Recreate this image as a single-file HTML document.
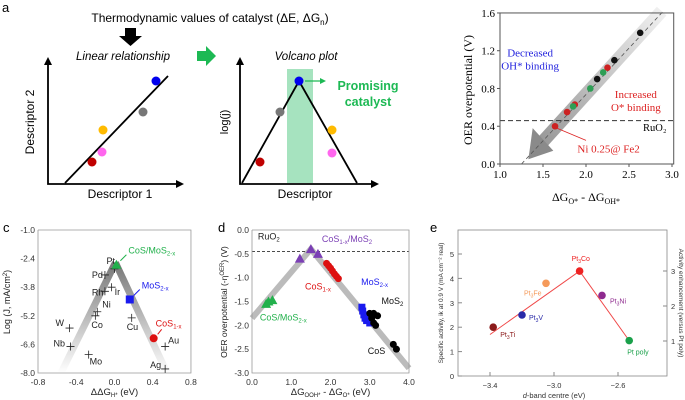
<!DOCTYPE html>
<html><head><meta charset="utf-8"><style>
body{margin:0;background:#fff}
svg{display:block;font-family:"Liberation Sans",sans-serif}
.serif{font-family:"Liberation Serif",serif}
</style></head><body>
<svg id="s" width="685" height="400" viewBox="0 0 685 400">
<defs>
<linearGradient id="gb" x1="0" y1="1" x2="1" y2="0"><stop offset="0" stop-color="#888"/><stop offset="1" stop-color="#eee"/></linearGradient>
<linearGradient id="gc1" x1="0" y1="1" x2="0" y2="0"><stop offset="0" stop-color="#fff"/><stop offset="1" stop-color="#777"/></linearGradient>
</defs>
<g>
<text x="2" y="12" font-size="13">a</text>
<text x="210" y="22" font-size="12" text-anchor="middle">Thermodynamic values of catalyst (ΔE, ΔG<tspan font-size="8" dy="3">n</tspan><tspan dy="-3">)</tspan></text>
<polygon points="125,28 136,28 136,36 142,36 130.5,46 119,36 125,36" fill="#000"/>
<text x="123" y="60" font-size="11.5" font-style="italic" text-anchor="middle">Linear relationship</text>
<text x="306" y="60" font-size="11.5" font-style="italic" text-anchor="middle">Volcano plot</text>
<polygon points="197,51 206,51 206,46 216,56 206,66 206,61 197,61" fill="#1db954"/>
<g stroke="#000" stroke-width="1.8" fill="none">
<path d="M48,60 V184 H180"/><path d="M240,60 V184 H375"/>
<line x1="65" y1="183" x2="168" y2="76"/>
</g>
<polygon points="48,57 44,65 52,65" fill="#000"/><polygon points="184,184 176,180 176,188" fill="#000"/>
<polygon points="240,57 236,65 244,65" fill="#000"/><polygon points="379,184 371,180 371,188" fill="#000"/>
<rect x="287" y="69" width="26" height="114" fill="#a6e3bf"/>
<polyline points="242,183 299,81 357,183" fill="none" stroke="#000" stroke-width="1.8"/>
<g>
<circle cx="156" cy="81" r="4.5" fill="#0000ee"/><circle cx="143" cy="112" r="4.5" fill="#777"/><circle cx="103" cy="130" r="4.5" fill="#ffbb00"/><circle cx="102" cy="152" r="4.5" fill="#ff66ee"/><circle cx="92" cy="162" r="4.5" fill="#c00000"/>
</g>
<g>
<circle cx="299" cy="81" r="4.5" fill="#0000ee"/><circle cx="280" cy="112" r="4.5" fill="#777"/><circle cx="260" cy="162" r="4.5" fill="#c00000"/><circle cx="332" cy="130" r="4.5" fill="#ffbb00"/><circle cx="332" cy="153" r="4.5" fill="#ff66ee"/>
</g>
<line x1="305" y1="81" x2="322" y2="81" stroke="#1db954" stroke-width="1.2"/><polygon points="326,81 320,78 320,84" fill="#1db954"/>
<text x="368" y="90" font-size="12.5" font-weight="bold" fill="#1db954" text-anchor="middle">Promising</text>
<text x="368" y="106" font-size="12.5" font-weight="bold" fill="#1db954" text-anchor="middle">catalyst</text>
<text x="120" y="198" font-size="12" text-anchor="middle">Descriptor 1</text>
<text x="305" y="198" font-size="12" text-anchor="middle">Descriptor</text>
<text transform="translate(34,122) rotate(-90)" font-size="12" text-anchor="middle">Descriptor 2</text>
<text transform="translate(228,122) rotate(-90)" font-size="11" text-anchor="middle">log(j)</text>
</g>
<text x="3" y="232" font-size="13">c</text>
<text x="218" y="232" font-size="13">d</text>
<text x="430" y="232" font-size="13">e</text>
<g id="gb-root"></g><g id="gc-root"></g><g id="gd-root"></g><g id="ge-root"></g>
</svg>
<script>
const NS="http://www.w3.org/2000/svg";
function mk(p,t,a,txt){const e=document.createElementNS(NS,t);for(const k in a)e.setAttribute(k,a[k]);if(txt!==undefined)e.textContent=txt;p.appendChild(e);return e;}
// ===== panel b data =====
const bXTicks=[1.0,1.5,2.0,2.5,3.0];
const bYTicks=[0.0,0.4,0.8,1.2,1.6];
const bBlackX=[2.63,2.33,2.13];const bBlackY=[1.39,1.10,0.90];
const bRedX=[2.25,1.87,1.78,1.64];const bRedY=[1.02,0.63,0.55,0.40];
const bGreenX=[2.20,2.05,1.85];const bGreenY=[0.97,0.80,0.61];
const bRuO2=[0.46];
(function(){
const g=document.getElementById('gb-root');


const X=v=>500+(v-1)*86, Y=v=>164-v*94.4;
mk(g,'line',{x1:X(2.88),y1:Y(1.62),x2:X(1.5),y2:Y(0.24),stroke:'url(#gb)','stroke-width':13,opacity:0.85});
mk(g,'polygon',{points:`${X(1.33)},${Y(0.05)} ${X(1.38)},${Y(0.38)} ${X(1.62)},${Y(0.14)}`,fill:'#8a8a8a'});
mk(g,'line',{x1:X(1.25),y1:Y(0),x2:X(2.9),y2:Y(1.62),stroke:'#555','stroke-dasharray':'4,3','stroke-width':0.8});
mk(g,'line',{x1:X(1),y1:Y(bRuO2[0]),x2:X(3.02),y2:Y(bRuO2[0]),stroke:'#333','stroke-dasharray':'5,3','stroke-width':1});
mk(g,'rect',{x:X(1),y:Y(1.6),width:X(3.02)-X(1),height:Y(0)-Y(1.6),fill:'none',stroke:'#555'});
bXTicks.forEach(t=>{mk(g,'line',{x1:X(t),y1:Y(0),x2:X(t),y2:Y(0)+3,stroke:'#555'});const e=mk(g,'text',{x:X(t),y:Y(0)+14,'font-size':11,'text-anchor':'middle',class:'serif'},t.toFixed(1));});
bYTicks.forEach(t=>{mk(g,'line',{x1:X(1)-3,y1:Y(t),x2:X(1),y2:Y(t),stroke:'#555'});const e=mk(g,'text',{x:X(1)-5,y:Y(t)+4,'font-size':11,'text-anchor':'end',class:'serif'},t.toFixed(1));});
const pts=(xs,ys,c,n)=>xs.forEach((x,i)=>{const e=mk(g,'circle',{cx:X(x),cy:Y(ys[i]),r:3.3,fill:c});});
pts(bBlackX,bBlackY,'#111','b-black-point');pts(bRedX,bRedY,'#cc2222','b-red-point');pts(bGreenX,bGreenY,'#2e9e55','b-green-point');
mk(g,'line',{x1:X(1.66),y1:Y(0.38),x2:X(2.0),y2:Y(0.25),stroke:'#d22','stroke-width':0.8});
mk(g,'text',{x:X(1.9),y:Y(0.12),'font-size':11,fill:'#d22',class:'serif'},'Ni 0.25@ Fe2');
mk(g,'text',{x:X(1.35),y:Y(1.14),'font-size':11,fill:'#2222dd','text-anchor':'middle',class:'serif'},'Decreased');
mk(g,'text',{x:X(1.35),y:Y(1.0),'font-size':11,fill:'#2222dd','text-anchor':'middle',class:'serif'},'OH* binding');
mk(g,'text',{x:X(2.58),y:Y(0.7),'font-size':11,fill:'#d22','text-anchor':'middle',class:'serif'},'Increased');
mk(g,'text',{x:X(2.58),y:Y(0.56),'font-size':11,fill:'#d22','text-anchor':'middle',class:'serif'},'O* binding');
mk(g,'text',{x:X(2.8),y:Y(0.35),'font-size':10.5,'text-anchor':'middle',class:'serif'},'RuO₂');
const xt=mk(g,'text',{x:X(2),y:201,'font-size':12,'text-anchor':'middle',class:'serif'});xt.innerHTML='ΔG<tspan font-size="8" dy="3">O*</tspan><tspan dy="-3"> - ΔG</tspan><tspan font-size="8" dy="3">OH*</tspan>';

const yt=mk(g,'text',{transform:'translate(472,90) rotate(-90)','font-size':12,'text-anchor':'middle',class:'serif'},'OER overpotential (V)');

})();
// ===== panel c data =====
const cXTicks=[-0.8,-0.4,0.0,0.4,0.8];
const cYTicks=[-1.0,-2.4,-3.8,-5.2,-6.6,-8.0];
const cMetals=['Pt','Pd','Rh','Ir','Ni','Co','Cu','W','Nb','Mo','Au','Ag'];
const cMetalX=[0.0,-0.1,-0.1,-0.03,-0.18,-0.2,0.18,-0.47,-0.46,-0.27,0.53,0.53];
const cMetalY=[-2.9,-3.2,-4.0,-3.8,-5.0,-5.2,-5.3,-5.8,-6.7,-7.1,-6.7,-7.8];
const cCatX=[0.02,0.16,0.41];const cCatY=[-2.7,-4.4,-6.3];
(function(){
const g=document.getElementById('gc-root');


const X=v=>38+(v+0.8)*95.6, Y=v=>230-(v+1)*20.43;
mk(g,'line',{x1:X(0.01),y1:Y(-2.6),x2:X(-0.56),y2:Y(-8.0),stroke:'url(#gc1)','stroke-width':7});
mk(g,'line',{x1:X(0.01),y1:Y(-2.6),x2:X(0.55),y2:Y(-8.0),stroke:'url(#gc1)','stroke-width':7});
mk(g,'path',{d:`M${X(-0.8)},${Y(-1)} V${Y(-8)} H${X(0.8)} V${Y(-1)} H${X(-0.8)}`,fill:'none',stroke:'#999','stroke-width':0.8});
cXTicks.forEach(t=>{const e=mk(g,'text',{x:X(t),y:Y(-8)+12,'font-size':8.5,'text-anchor':'middle',fill:'#333'},t.toFixed(1));});
cYTicks.forEach(t=>{const e=mk(g,'text',{x:X(-0.8)-3,y:Y(t)+3,'font-size':8.5,'text-anchor':'end',fill:'#333'},t.toFixed(1));});
const off={Pt:[-8,-5],Pd:[-13,3],Rh:[-13,4],Ir:[3,8],Ni:[5,-4],Co:[-4,12],Cu:[-5,12],W:[-14,-2],Nb:[-17,0],Mo:[1,10],Au:[3,-3],Ag:[-15,-1]};
cMetals.forEach((m,i)=>{const x=X(cMetalX[i]),y=Y(cMetalY[i]);const p=mk(g,'path',{d:`M${x-4},${y}H${x+4}M${x},${y-4}V${y+4}`,stroke:'#222','stroke-width':0.8});
mk(g,'text',{x:x+off[m][0],y:y+off[m][1],'font-size':9,fill:'#222'},m);});
const tx=X(cCatX[0]),ty=Y(cCatY[0]);const tr=mk(g,'polygon',{points:`${tx},${ty-5} ${tx-5},${ty+4} ${tx+5},${ty+4}`,fill:'#22b14c'});
const sq=mk(g,'rect',{x:X(cCatX[1])-4,y:Y(cCatY[1])-4,width:8,height:8,fill:'#1a1aee'});
const ci=mk(g,'circle',{cx:X(cCatX[2]),cy:Y(cCatY[2]),r:4,fill:'#dd1111'});
mk(g,'line',{x1:tx+4,y1:ty-4,x2:tx+10,y2:ty-10,stroke:'#22b14c'});
mk(g,'line',{x1:X(cCatX[1])+4,y1:Y(cCatY[1])-4,x2:X(cCatX[1])+10,y2:Y(cCatY[1])-10,stroke:'#1a1aee'});
mk(g,'line',{x1:X(cCatX[2])+4,y1:Y(cCatY[2])-4,x2:X(cCatX[2])+8,y2:Y(cCatY[2])-9,stroke:'#dd1111'});
mk(g,'text',{x:tx+12,y:ty-11,'font-size':9,fill:'#22b14c'}).innerHTML='CoS/MoS<tspan font-size="6" dy="2">2-x</tspan>';
mk(g,'text',{x:X(cCatX[1])+12,y:Y(cCatY[1])-11,'font-size':9,fill:'#1a1aee'}).innerHTML='MoS<tspan font-size="6" dy="2">2-x</tspan>';
mk(g,'text',{x:X(cCatX[2])+2,y:Y(cCatY[2])-12,'font-size':9,fill:'#dd1111'}).innerHTML='CoS<tspan font-size="6" dy="2">1-x</tspan>';
const xt=mk(g,'text',{x:X(0),y:395,'font-size':9.5,'text-anchor':'middle',fill:'#222'});xt.innerHTML='ΔΔG<tspan font-size="6" dy="2">H*</tspan><tspan dy="-2"> (eV)</tspan>';
const yt=mk(g,'text',{transform:'translate(10,302) rotate(-90)','font-size':9,'text-anchor':'middle',fill:'#222'});yt.innerHTML='Log (J, mA/cm<tspan font-size="6" dy="-3">2</tspan><tspan dy="3">)</tspan>';
})();
// ===== panel d data =====
const dXTicks=[0.0,1.0,2.0,3.0,4.0];
const dYTicks=[0.0,-0.5,-1.0,-1.5,-2.0,-2.5,-3.0];
const dPurpleX=[1.22,1.5,1.68];const dPurpleY=[-0.6,-0.4,-0.5];
const dGreenX=[0.36,0.42,0.52];const dGreenY=[-1.55,-1.5,-1.47];
const dRedX=[1.9,1.95,2.0,2.05,2.1,2.15,2.2];const dRedY=[-0.7,-0.75,-0.8,-0.86,-0.92,-0.97,-1.02];
const dBlueX=[2.8,2.82,2.85,2.88,2.92,2.95,3.0];const dBlueY=[-1.62,-1.7,-1.78,-1.85,-1.9,-1.8,-1.95];
const dBlackX=[3.0,3.05,3.1,3.1,3.15,3.2,3.6,3.68];const dBlackY=[-1.75,-1.85,-1.95,-1.75,-2.0,-1.8,-2.4,-2.5];
const dRuO2=[-0.45];
(function(){
const g=document.getElementById('gd-root');


const X=v=>252+v*39.25, Y=v=>230-v*47.67;
mk(g,'polyline',{points:`${X(0)},${Y(-1.85)} ${X(1.5)},${Y(-0.4)} ${X(4)},${Y(-2.9)}`,fill:'none',stroke:'#aaa','stroke-width':6,opacity:0.8});
mk(g,'line',{x1:X(0),y1:Y(dRuO2[0]),x2:X(4),y2:Y(dRuO2[0]),stroke:'#333','stroke-dasharray':'3,2','stroke-width':0.8});
mk(g,'path',{d:`M${X(0)},${Y(0)} V${Y(-3)} H${X(4)} V${Y(0)} H${X(0)}`,fill:'none',stroke:'#999','stroke-width':0.8});
dXTicks.forEach(t=>{const e=mk(g,'text',{x:X(t),y:Y(-3)+12,'font-size':8.5,'text-anchor':'middle',fill:'#333'},t.toFixed(1));});
dYTicks.forEach(t=>{const e=mk(g,'text',{x:X(0)-3,y:Y(t)+3,'font-size':8.5,'text-anchor':'end',fill:'#333'},t.toFixed(1));});
const tri=(xs,ys,c,n)=>xs.forEach((x,i)=>{const px=X(x),py=Y(ys[i]);const e=mk(g,'polygon',{points:`${px},${py-5} ${px-5},${py+4} ${px+5},${py+4}`,fill:c});});
const cir=(xs,ys,c,n)=>xs.forEach((x,i)=>{const e=mk(g,'circle',{cx:X(x),cy:Y(ys[i]),r:3.5,fill:c});});
tri(dPurpleX,dPurpleY,'#7b3fb5','d-purple-point');tri(dGreenX,dGreenY,'#22b14c','d-green-point');
cir(dRedX,dRedY,'#dd1111','d-red-point');
dBlueX.forEach((x,i)=>{const e=mk(g,'rect',{x:X(x)-3.5,y:Y(dBlueY[i])-3.5,width:7,height:7,fill:'#1a1aee'});});
cir(dBlackX,dBlackY,'#000','d-black-point');
const lab=(x,y,c,h)=>{mk(g,'text',{x,y,'font-size':9,fill:c}).innerHTML=h;};
lab(X(0.15),Y(-0.2),'#222','RuO<tspan font-size="6" dy="2">2</tspan>');
lab(X(1.78),Y(-0.25),'#7b3fb5','CoS<tspan font-size="6" dy="2">1-x</tspan><tspan dy="-2">/MoS</tspan><tspan font-size="6" dy="2">2</tspan>');
lab(X(1.35),Y(-1.25),'#dd1111','CoS<tspan font-size="6" dy="2">1-x</tspan>');
lab(X(2.78),Y(-1.15),'#1a1aee','MoS<tspan font-size="6" dy="2">2-x</tspan>');
lab(X(3.3),Y(-1.55),'#111','MoS<tspan font-size="6" dy="2">2</tspan>');
lab(X(0.2),Y(-1.9),'#22b14c','CoS/MoS<tspan font-size="6" dy="2">2-x</tspan>');
lab(X(2.95),Y(-2.6),'#111','CoS');
const xt=mk(g,'text',{x:X(2),y:395,'font-size':9.5,'text-anchor':'middle',fill:'#222'});xt.innerHTML='ΔG<tspan font-size="6" dy="2">OOH*</tspan><tspan dy="-2"> - ΔG</tspan><tspan font-size="6" dy="2">O*</tspan><tspan dy="-2"> (eV)</tspan>';
const yt=mk(g,'text',{transform:'translate(227,302) rotate(-90)','font-size':8.5,'text-anchor':'middle',fill:'#222'});yt.innerHTML='OER overpotential (-η<tspan font-size="6" dy="-3">OER</tspan><tspan dy="3">) (V)</tspan>';
})();
// ===== panel e data =====
const eXTicks=[-3.4,-3.0,-2.6];
const eYTicks=[0,1,2,3,4,5];
const eRightTicks=[1,2,3];
const eNames=['Pt3Ti','Pt3V','Pt3Fe','Pt3Co','Pt3Ni','Pt poly'];
const eX=[-3.38,-3.2,-3.05,-2.84,-2.7,-2.53];
const eY=[2.0,2.5,3.8,4.3,3.3,1.45];
(function(){
const g=document.getElementById('ge-root');


const X=v=>490+(v+3.4)*160, Y=v=>376-v*24.4;
const RY=v=>341-(v-1)*35;
mk(g,'rect',{x:458,y:230,width:209,height:146,fill:'none',stroke:'#888','stroke-width':0.8});
eXTicks.forEach(t=>{mk(g,'line',{x1:X(t),y1:376,x2:X(t),y2:372,stroke:'#888'});const e=mk(g,'text',{x:X(t),y:388,'font-size':7.5,'text-anchor':'middle',fill:'#333'},'−'+Math.abs(t).toFixed(1));});
eYTicks.forEach(t=>{mk(g,'line',{x1:458,y1:Y(t),x2:462,y2:Y(t),stroke:'#888'});const e=mk(g,'text',{x:454,y:Y(t)+3,'font-size':7.5,'text-anchor':'end',fill:'#333'},t);});
eRightTicks.forEach(t=>{mk(g,'line',{x1:663,y1:RY(t),x2:667,y2:RY(t),stroke:'#888'});const e=mk(g,'text',{x:671,y:RY(t)+3,'font-size':7.5,fill:'#333'},t);});
mk(g,'polyline',{points:`${X(-3.4)},${Y(1.7)} ${X(eX[3])},${Y(eY[3])} ${X(eX[5])},${Y(eY[5])}`,fill:'none',stroke:'#f04848','stroke-width':1});
const cols=['#8b1a1a','#2a2aa8','#f59a5a','#ee2222','#8e2a8e','#1aa04a'];
const off=[[7,10],[7,5],[-22,12],[-8,-10],[8,8],[-2,14]];
eNames.forEach((n,i)=>{const e=mk(g,'circle',{cx:X(eX[i]),cy:Y(eY[i]),r:3.8,fill:cols[i]});
const t=mk(g,'text',{x:X(eX[i])+off[i][0],y:Y(eY[i])+off[i][1],'font-size':7,fill:cols[i]});t.innerHTML=n.startsWith('Pt3')?'Pt<tspan font-size="5" dy="2">3</tspan><tspan dy="-2">'+n.slice(3)+'</tspan>':n;});
const xt=mk(g,'text',{x:X(-3.0),y:398,'font-size':7.5,'text-anchor':'middle',fill:'#333'});xt.innerHTML='<tspan font-style="italic">d</tspan>-band centre (eV)';
const yt=mk(g,'text',{transform:'translate(443,303) rotate(-90)','font-size':6.5,'text-anchor':'middle',fill:'#333'},'Specific activity, ik at 0.9 V (mA cm⁻² real)');
const rt=mk(g,'text',{transform:'translate(679,303) rotate(90)','font-size':6.5,'text-anchor':'middle',fill:'#333'},'Activity enhancement (versus Pt poly)');
})();
</script>
</body></html>
